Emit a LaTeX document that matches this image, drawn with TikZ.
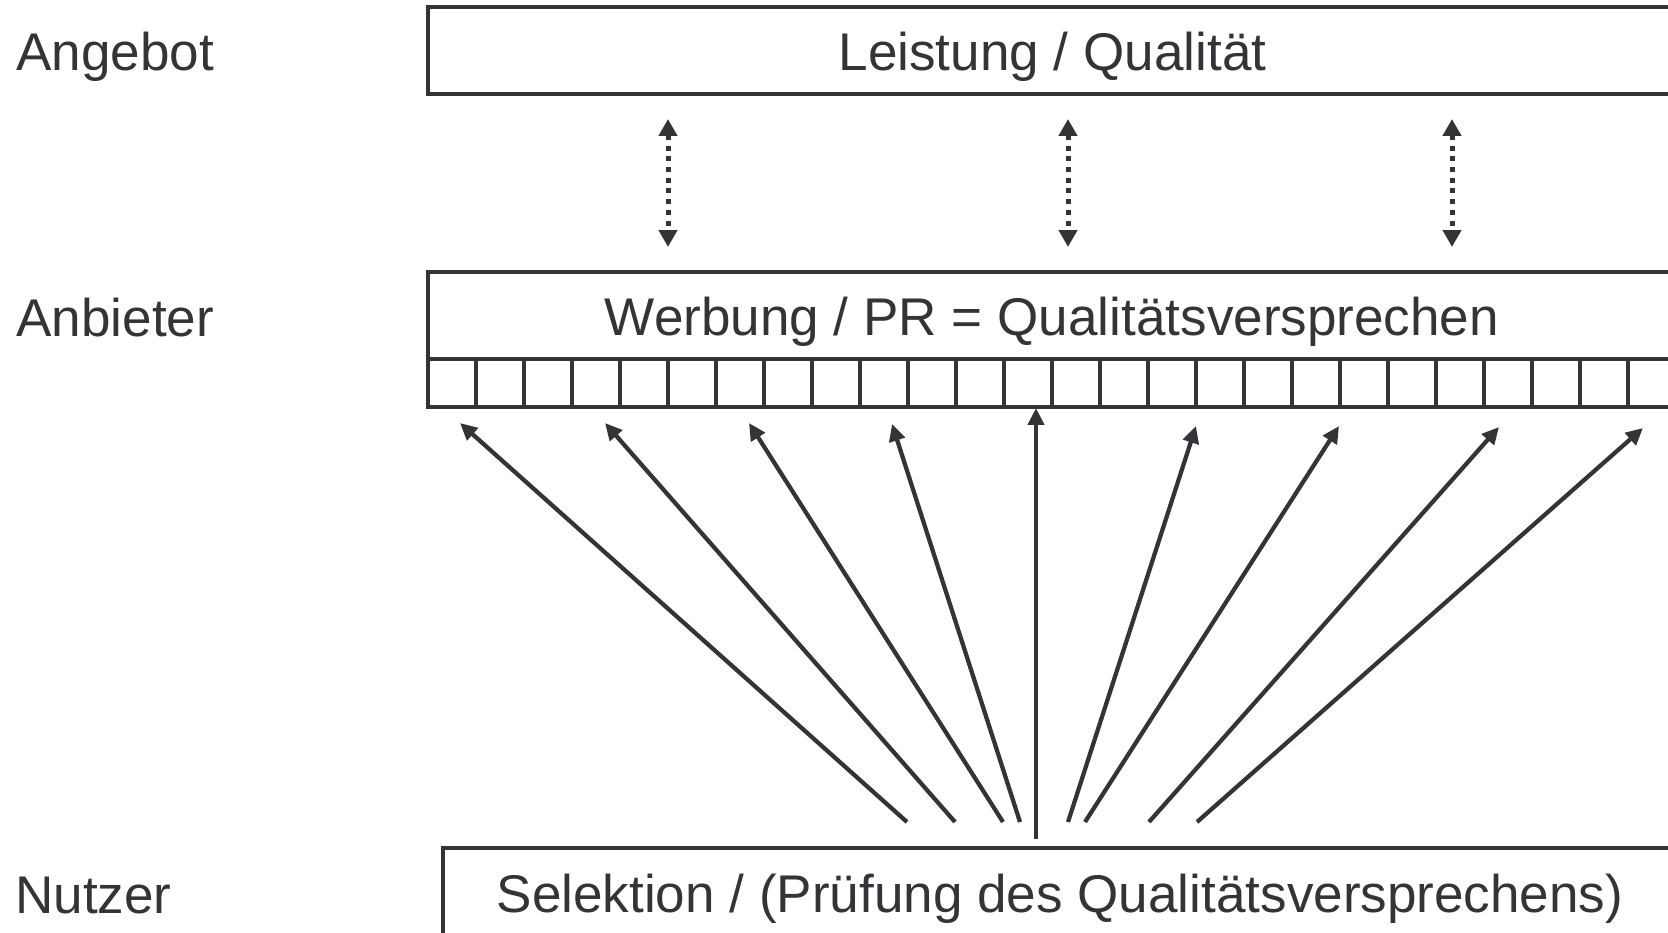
\documentclass[tikz,border=0pt]{standalone}
\usepackage{fontspec}
\setmainfont{Liberation Sans}
\usetikzlibrary{arrows.meta, positioning}
\definecolor{ink}{RGB}{52,52,56}

\begin{document}
\begin{tikzpicture}[
			x=0.02cm, y=-0.02cm,
			font=\fontsize{30.2pt}{36pt}\selectfont,
			box/.style={rectangle, draw=ink, line width=0.07cm, inner sep=0pt, outer sep=0pt, text=ink, text height=0.82cm, text depth=0pt},
			cell/.style={rectangle, draw=ink, line width=0.07cm, inner sep=0pt, outer sep=0pt, minimum size=0.96cm},
			level/.style={anchor=base west, inner sep=0pt, text=ink},
			arrow/.style={draw=ink, line width=0.085cm, -{Triangle[length=0.34cm, width=0.32cm]}},
			darrow/.style={draw=ink, line width=0.1cm, dash pattern=on 0.1cm off 0.114cm, {Triangle[length=0.34cm, width=0.36cm]}-{Triangle[length=0.34cm, width=0.36cm]}}
		]
		\useasboundingbox (0,0) rectangle (1668,933);
		\clip (0,0) rectangle (1668,933);

		% --- EBENEN ---
		\node (angebot) [level] at (16,71) {Angebot};
		\node (anbieter) [level] at (16,336) {Anbieter};
		\node (nutzer) [level] at (15,913) {Nutzer};

		% --- BLOECKE ---
		\node (leistung) [box, minimum width=24.98cm, minimum height=1.74cm] at (1052.5,50.5) {Leistung / Qualität};
		\node (werbung) [box, minimum width=24.96cm, minimum height=1.74cm] at (1052,315.5) {Werbung / PR = Qualitätsversprechen};
		\node (selektion) [box, minimum width=24.68cm, minimum height=1.76cm] at (1060,892) {Selektion / (Prüfung des Qualitätsversprechens)};

		% Kaestchen unter der Werbung
		\node (cell0) [cell, below right=0 of werbung.south west] {};
		\foreach \i [count=\j from 0] in {1,...,25}
			\node (cell\i) [cell, right=0 of cell\j] {};

		% --- PFEILE ---
		% Angebot <-> Anbieter
		\foreach \n/\x in {1/668, 2/1068, 3/1452} {
			\coordinate (oben\n) at (\x,119);
			\coordinate (unten\n) at (\x,247);
			\draw [darrow] (oben\n) -- (unten\n);
		}

		% Nutzer -> Anbieter
		\foreach \n/\sx/\sy/\tx/\ty in {1/907/822/460/423, 2/955/822/605/423, 3/1003/822/749/423, 4/1020/822/892/424, 5/1036/839/1036/408, 6/1068/822/1196/426, 7/1085/822/1339/426, 8/1149/822/1499/427, 9/1197/822/1643/428} {
			\coordinate (fuss\n) at (\sx,\sy);
			\coordinate (spitze\n) at (\tx,\ty);
			\draw [arrow] (fuss\n) -- (spitze\n);
		}
	\end{tikzpicture}
\end{document}
